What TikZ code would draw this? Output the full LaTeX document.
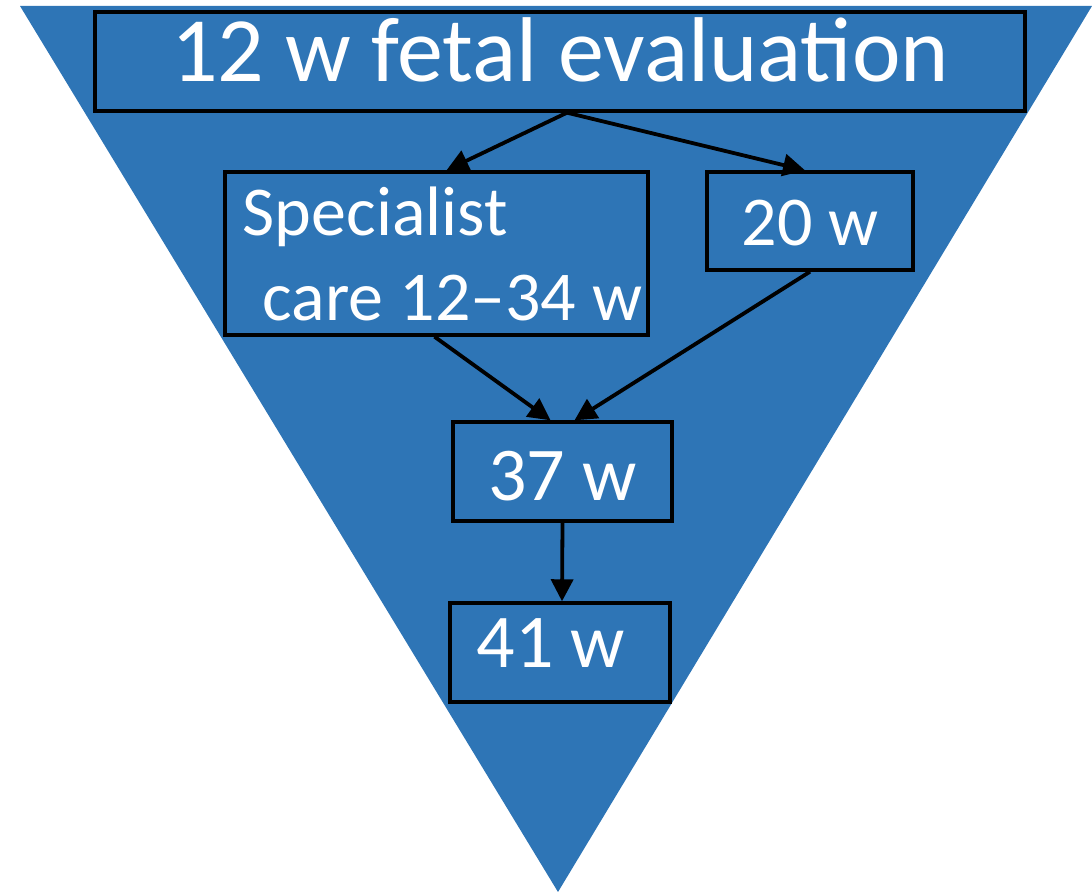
\documentclass[tikz,border=0pt]{standalone}
\usepackage{fontspec}
\setmainfont{Carlito}
\usepackage{tikz}
\usetikzlibrary{arrows.meta,positioning}
\definecolor{tri-blue}{HTML}{2E75B6}

\begin{document}
\begin{tikzpicture}[x=0.5pt, y=-0.5pt, >={Triangle[length=11pt,width=11pt]},
    box/.style={draw=black, line width=1.7pt, rectangle, inner sep=0pt, text=white},
    link/.style={->, line width=1.9pt, black}]
    \useasboundingbox (0,0) rectangle (1092,892);
    \fill[tri-blue] (20,6) -- (1092,6) -- (558,892) -- cycle;
    \node[box, minimum width=465pt, minimum height=49.5pt, text height=25pt, text depth=5pt,
        font=\fontsize{46}{55}\selectfont] (eval) at (560,61.5) {12 w fetal evaluation};
    \node[box, minimum width=211.5pt, minimum height=81.5pt, align=left,
        font=\fontsize{35}{42.5}\selectfont] (spec) at (436.5,253.5) {\hspace*{6pt}Specialist\\\hspace*{16pt}care 12--34 w};
    \node[box, minimum width=103pt, minimum height=49pt, text height=25pt, text depth=0pt,
        font=\fontsize{35}{42}\selectfont] (w20) at (810,221) {20 w};
    \node[box, minimum width=109.5pt, minimum height=49.5pt, text height=29pt, text depth=0pt,
        font=\fontsize{38}{46}\selectfont] (w37) at (562.5,471.5) {37 w};
    \node[box, minimum width=110pt, minimum height=49.5pt, text height=20pt, text depth=4.5pt,
        font=\fontsize{38}{46}\selectfont] (w41) at (560,652.5) {41 w\hspace*{9pt}};
    \draw[link] ([xshift=3.5pt]eval.south) -- ([xshift=5pt]spec.north);
    \draw[link] ([xshift=3.5pt]eval.south) -- ([xshift=-2.5pt]w20.north);
    \draw[link] ([xshift=-1pt]spec.south) -- ([xshift=-6pt]w37.north);
    \draw[link] (w20.south) -- ([xshift=6pt]w37.north);
    \draw[link] (w37.south) -- ([xshift=1pt]w41.north);
\end{tikzpicture}
\end{document}
